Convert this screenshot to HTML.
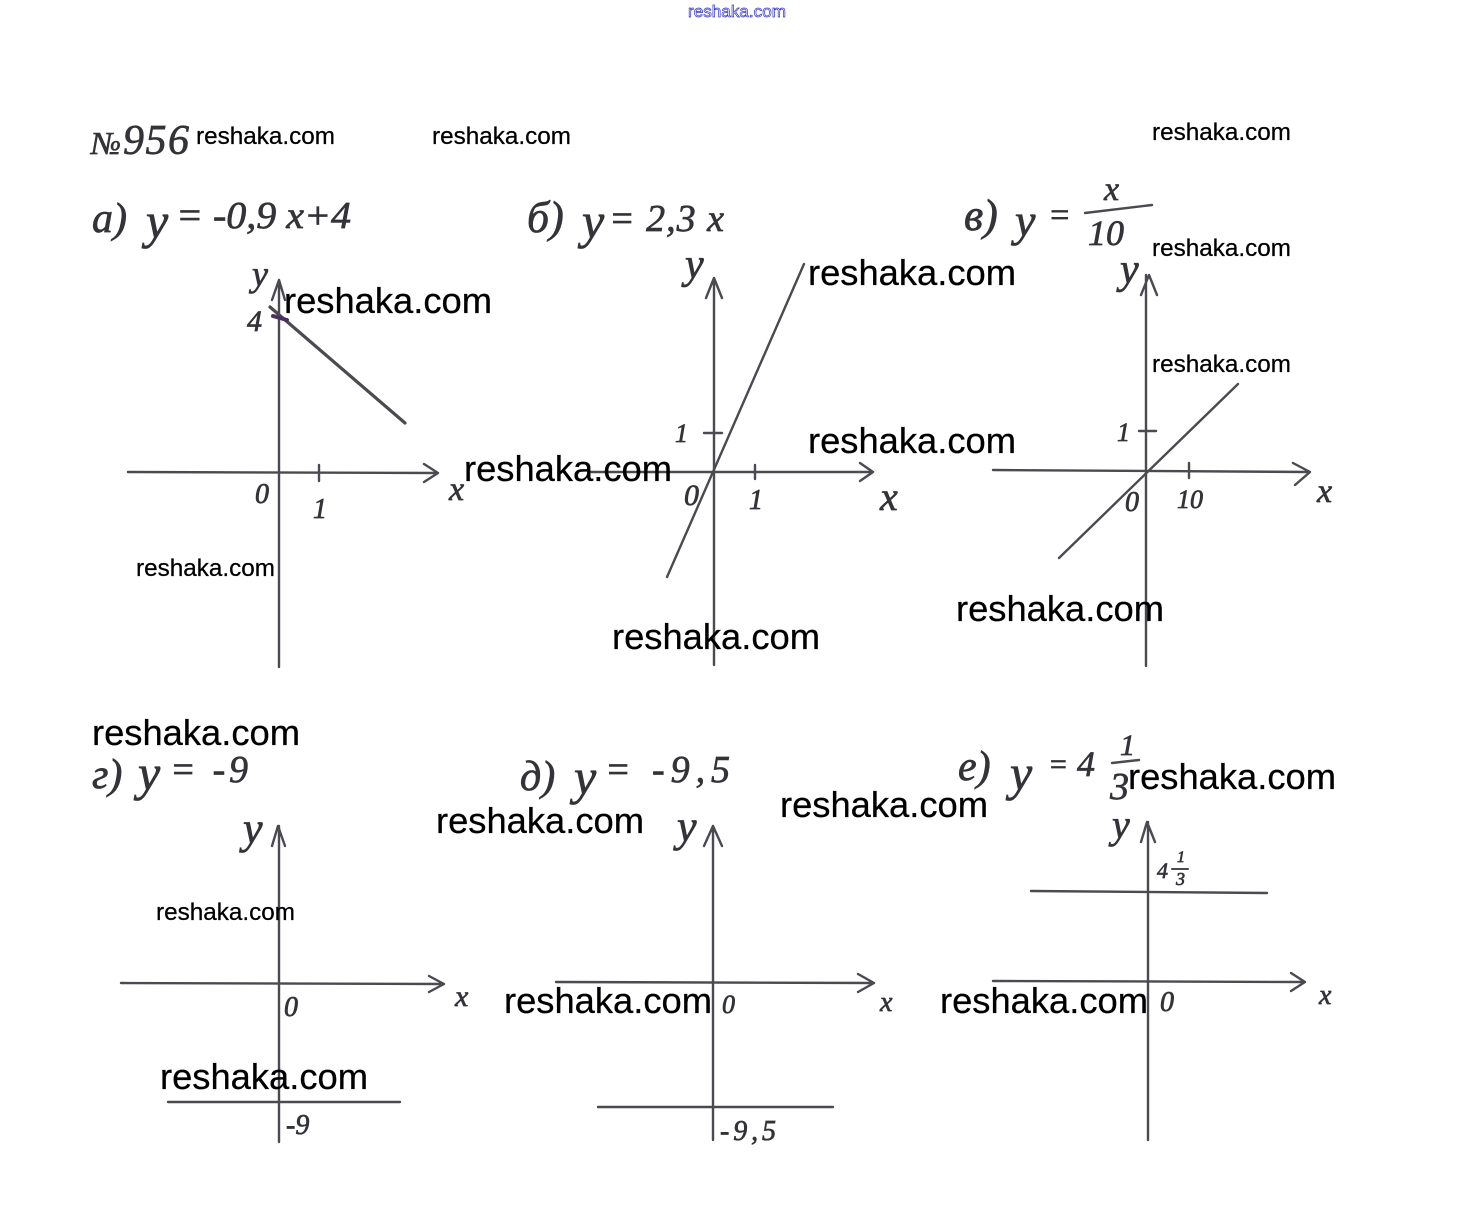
<!DOCTYPE html>
<html><head><meta charset="utf-8"><style>
html,body{margin:0;padding:0;background:#fff}
svg{display:block}
.w{font-family:"Liberation Sans",sans-serif;fill:#000;stroke:#000;stroke-width:.25px}
.b{font-size:36px}.s{font-size:24px}
.h{font-family:"Liberation Serif",serif;font-style:italic;fill:#333338;stroke:#333338;stroke-width:.7px}
.l{stroke:#4a4a50;stroke-width:2.4;fill:none;stroke-linecap:round;stroke-linejoin:round}
</style></head><body>
<svg width="1471" height="1221" viewBox="0 0 1471 1221" xmlns="http://www.w3.org/2000/svg">
<rect width="1471" height="1221" fill="#fff"/>

<!-- axes -->
<g class="l">
<path d="M279 667V280M272 300L279 280L285 300"/>
<path d="M128 472L438 473M424 464L438 473L424 482"/>
<path d="M319 465V481"/>
<path d="M714 665V278M706 298L714 278L722 298"/>
<path d="M590 472H873M860 463L873 472L860 481"/>
<path d="M755 465V479M704 433H722"/>
<path d="M1146 666V275M1141 295L1149 275L1157 295"/>
<path d="M993 470L1310 472M1293 463L1310 472L1295 485"/>
<path d="M1189 463V478M1139 431H1156"/>
<path d="M279 1142V826M272 846L278 826L285 846"/>
<path d="M121 983L444 984M429 976L444 984L429 992"/>
<path d="M713 1140V826M704 846L713 826L722 846"/>
<path d="M556 982L874 983M858 974L874 983L858 992"/>
<path d="M1148 1140V822M1141 842L1147 822L1155 842"/>
<path d="M993 981L1305 982M1291 973L1305 982L1291 991"/>
</g>

<!-- function lines -->
<g class="l">
<path d="M270 307L405 423" stroke-width="3.2"/>
<path d="M804 264L667 577"/>
<path d="M1238 384L1059 558"/>
<path d="M168 1102H400"/>
<path d="M598 1107H833"/>
<path d="M1031 891L1267 893"/>
<path d="M1085 213L1152 205M1112 763L1139 760"/>
<path d="M1172 869H1188" stroke-width="2"/>
<path d="M273 316L287 320" stroke="#4a2f60" stroke-width="4"/>
</g>

<!-- title and formulas -->
<g class="h">
<text x="91" y="154" font-size="32" textLength="30" lengthAdjust="spacingAndGlyphs">№</text>
<text x="123" y="154" font-size="42" letter-spacing="1.5">956</text>
<text x="92" y="232" font-size="42">а)</text>
<text x="146" y="238" font-size="50">y</text>
<text x="176" y="228" font-size="38" textLength="175" lengthAdjust="spacingAndGlyphs">= -0,9 x+4</text>
<text x="527" y="232" font-size="44">б)</text>
<text x="582" y="238" font-size="50">y</text>
<text x="609" y="231" font-size="38" textLength="115">= 2,3 x</text>
<text x="964" y="230" font-size="44">в)</text>
<text x="1015" y="236" font-size="46">y</text>
<text x="1048" y="226" font-size="34">=</text>
<text x="1104" y="200" font-size="34">x</text>
<text x="1088" y="245" font-size="36">10</text>

<text x="92" y="788" font-size="42">г)</text>
<text x="138" y="790" font-size="50">y</text>
<text x="170" y="782" font-size="38" textLength="78">= -9</text>
<text x="520" y="790" font-size="42">д)</text>
<text x="574" y="794" font-size="50">y</text>
<text x="605" y="782" font-size="38" textLength="125">= -9,5</text>
<text x="958" y="780" font-size="42">е)</text>
<text x="1010" y="790" font-size="50">y</text>
<text x="1048" y="774" font-size="30">=</text>
<text x="1077" y="776" font-size="36">4</text>
<text x="1120" y="755" font-size="30">1</text>
<text x="1110" y="799" font-size="38">3</text>
</g>

<!-- axis labels -->
<g class="h">
<text x="252" y="286" font-size="36">y</text><text x="247" y="331" font-size="30">4</text>
<text x="449" y="500" font-size="34">x</text><text x="255" y="503" font-size="28">0</text><text x="313" y="518" font-size="28">1</text>
<text x="685" y="278" font-size="42">y</text><text x="675" y="442" font-size="26">1</text>
<text x="880" y="510" font-size="40">x</text><text x="684" y="505" font-size="30">0</text><text x="749" y="509" font-size="28">1</text>
<text x="1120" y="283" font-size="42">y</text><text x="1117" y="441" font-size="26">1</text>
<text x="1317" y="502" font-size="34">x</text><text x="1125" y="511" font-size="28">0</text><text x="1177" y="508" font-size="26">10</text>
<text x="243" y="843" font-size="44">y</text><text x="455" y="1006" font-size="30">x</text><text x="284" y="1016" font-size="28">0</text><text x="286" y="1134" font-size="28">-9</text>
<text x="677" y="841" font-size="44">y</text><text x="880" y="1011" font-size="28">x</text><text x="722" y="1013" font-size="26">0</text><text x="720" y="1140" font-size="28" textLength="56">-9,5</text>
<text x="1112" y="838" font-size="40">y</text><text x="1319" y="1004" font-size="28">x</text><text x="1160" y="1011" font-size="28">0</text>
<text x="1157" y="878" font-size="22">4</text><text x="1177" y="862" font-size="16">1</text><text x="1176" y="885" font-size="18">3</text>
</g>

<!-- watermark -->
<text x="688" y="17" font-family="Liberation Sans, sans-serif" font-size="17" fill="#fff" stroke="#3333cc" stroke-width=".7" textLength="98" lengthAdjust="spacingAndGlyphs">reshaka.com</text>
<g class="w s">
<text x="196" y="144" textLength="139" lengthAdjust="spacingAndGlyphs">reshaka.com</text>
<text x="432" y="144" textLength="139" lengthAdjust="spacingAndGlyphs">reshaka.com</text>
<text x="1152" y="140" textLength="139" lengthAdjust="spacingAndGlyphs">reshaka.com</text>
<text x="1152" y="256" textLength="139" lengthAdjust="spacingAndGlyphs">reshaka.com</text>
<text x="1152" y="372" textLength="139" lengthAdjust="spacingAndGlyphs">reshaka.com</text>
<text x="136" y="576" textLength="139" lengthAdjust="spacingAndGlyphs">reshaka.com</text>
<text x="156" y="920" textLength="139" lengthAdjust="spacingAndGlyphs">reshaka.com</text>
</g>
<g class="w b">
<text x="284" y="313" textLength="208" lengthAdjust="spacingAndGlyphs">reshaka.com</text>
<text x="808" y="285" textLength="208" lengthAdjust="spacingAndGlyphs">reshaka.com</text>
<text x="464" y="481" textLength="208" lengthAdjust="spacingAndGlyphs">reshaka.com</text>
<text x="808" y="453" textLength="208" lengthAdjust="spacingAndGlyphs">reshaka.com</text>
<text x="956" y="621" textLength="208" lengthAdjust="spacingAndGlyphs">reshaka.com</text>
<text x="612" y="649" textLength="208" lengthAdjust="spacingAndGlyphs">reshaka.com</text>
<text x="92" y="745" textLength="208" lengthAdjust="spacingAndGlyphs">reshaka.com</text>
<text x="1128" y="789" textLength="208" lengthAdjust="spacingAndGlyphs">reshaka.com</text>
<text x="780" y="817" textLength="208" lengthAdjust="spacingAndGlyphs">reshaka.com</text>
<text x="436" y="833" textLength="208" lengthAdjust="spacingAndGlyphs">reshaka.com</text>
<text x="504" y="1013" textLength="208" lengthAdjust="spacingAndGlyphs">reshaka.com</text>
<text x="940" y="1013" textLength="208" lengthAdjust="spacingAndGlyphs">reshaka.com</text>
<text x="160" y="1089" textLength="208" lengthAdjust="spacingAndGlyphs">reshaka.com</text>
</g>
</svg>
</body></html>
